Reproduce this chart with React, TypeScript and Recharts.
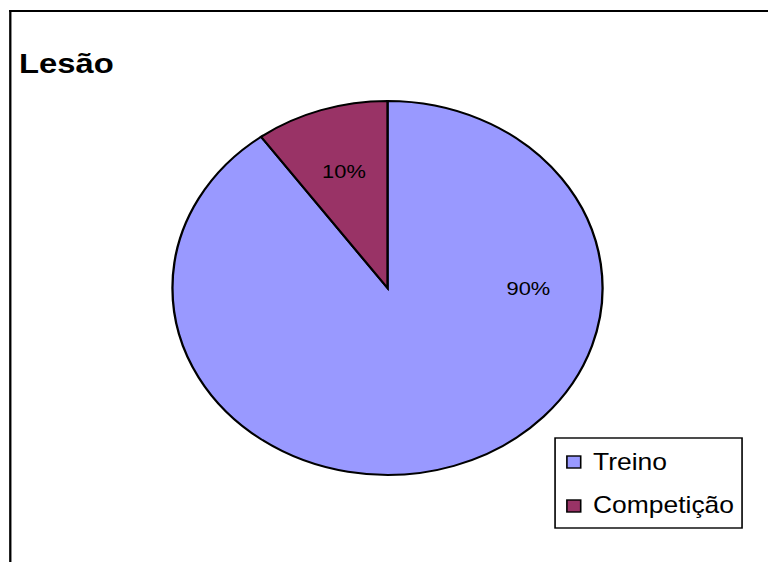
import React from 'react';
import { PieChart, Pie, Cell } from 'recharts';

const title = 'Lesão';
const categories = ['Treino', 'Competição'];
const values = [90, 10];

const colors = ['#9999FF', '#993366'];
// Excel "best fit" puts the big label at 3 o'clock, the small one on its mid angle
const labelAngles: (number | null)[] = [0, null];

const SX = 1.15; // the whole picture is stretched horizontally
const FONT = '"Liberation Sans", Arial, sans-serif';
const RAD = Math.PI / 180;

const data = categories.map((name, i) => ({ name, value: values[i] }));

function SliceLabel(props: any) {
  const { cx, cy, midAngle, outerRadius, index, percent } = props;
  const a = labelAngles[index] ?? midAngle;
  const r = outerRadius * 0.655;
  const x = cx + r * Math.cos(a * RAD);
  const y = cy - r * Math.sin(a * RAD);
  return (
    <text
      x={x}
      y={y}
      fill="#000"
      fontSize={19}
      fontFamily={FONT}
      textAnchor="middle"
      dominantBaseline="central"
    >
      {`${Math.round(percent * 100)}%`}
    </text>
  );
}

export default function App() {
  const W = 760 / SX;
  const H = 554;
  return (
    <div
      style={{
        position: 'fixed',
        left: 8,
        top: 8,
        width: W,
        height: H,
        overflow: 'hidden',
        transform: `scaleX(${SX})`,
        transformOrigin: '0 0',
        background: '#fff',
      }}
    >
      <div
        style={{
          position: 'absolute',
          left: 1 / SX,
          top: 2,
          width: 900,
          height: 900,
          borderTop: '2px solid #000',
          borderLeft: '2px solid #000',
        }}
      />
      <svg width={W} height={H} style={{ position: 'absolute', left: 0, top: 0 }}>
        <text x={9.6} y={65} fontSize={28.5} fontWeight="bold" fontFamily={FONT} fill="#000">
          {title}
        </text>
        <rect x={475.7} y={430} width={162.6} height={90} fill="#fff" stroke="#000" strokeWidth={1.4} />
        {categories.map((c, i) => (
          <g key={c}>
            <rect
              x={486}
              y={448 + i * 44}
              width={12}
              height={12}
              fill={colors[i]}
              stroke="#000"
              strokeWidth={1.4}
            />
            <text x={508.7} y={462 + i * 43} fontSize={23} fontFamily={FONT} fill="#000">
              {c}
            </text>
          </g>
        ))}
      </svg>
      <div style={{ position: 'absolute', left: 130.4, top: 80 }}>
        <PieChart width={400} height={400} margin={{ top: 0, right: 0, bottom: 0, left: 0 }}>
          <Pie
            data={data}
            dataKey="value"
            nameKey="name"
            cx={200}
            cy={200}
            outerRadius={187}
            startAngle={90}
            endAngle={-270}
            stroke="#000"
            strokeWidth={2}
            label={SliceLabel}
            labelLine={false}
            isAnimationActive={false}
          >
            {data.map((d, i) => (
              <Cell key={d.name} fill={colors[i]} />
            ))}
          </Pie>
        </PieChart>
      </div>
    </div>
  );
}
